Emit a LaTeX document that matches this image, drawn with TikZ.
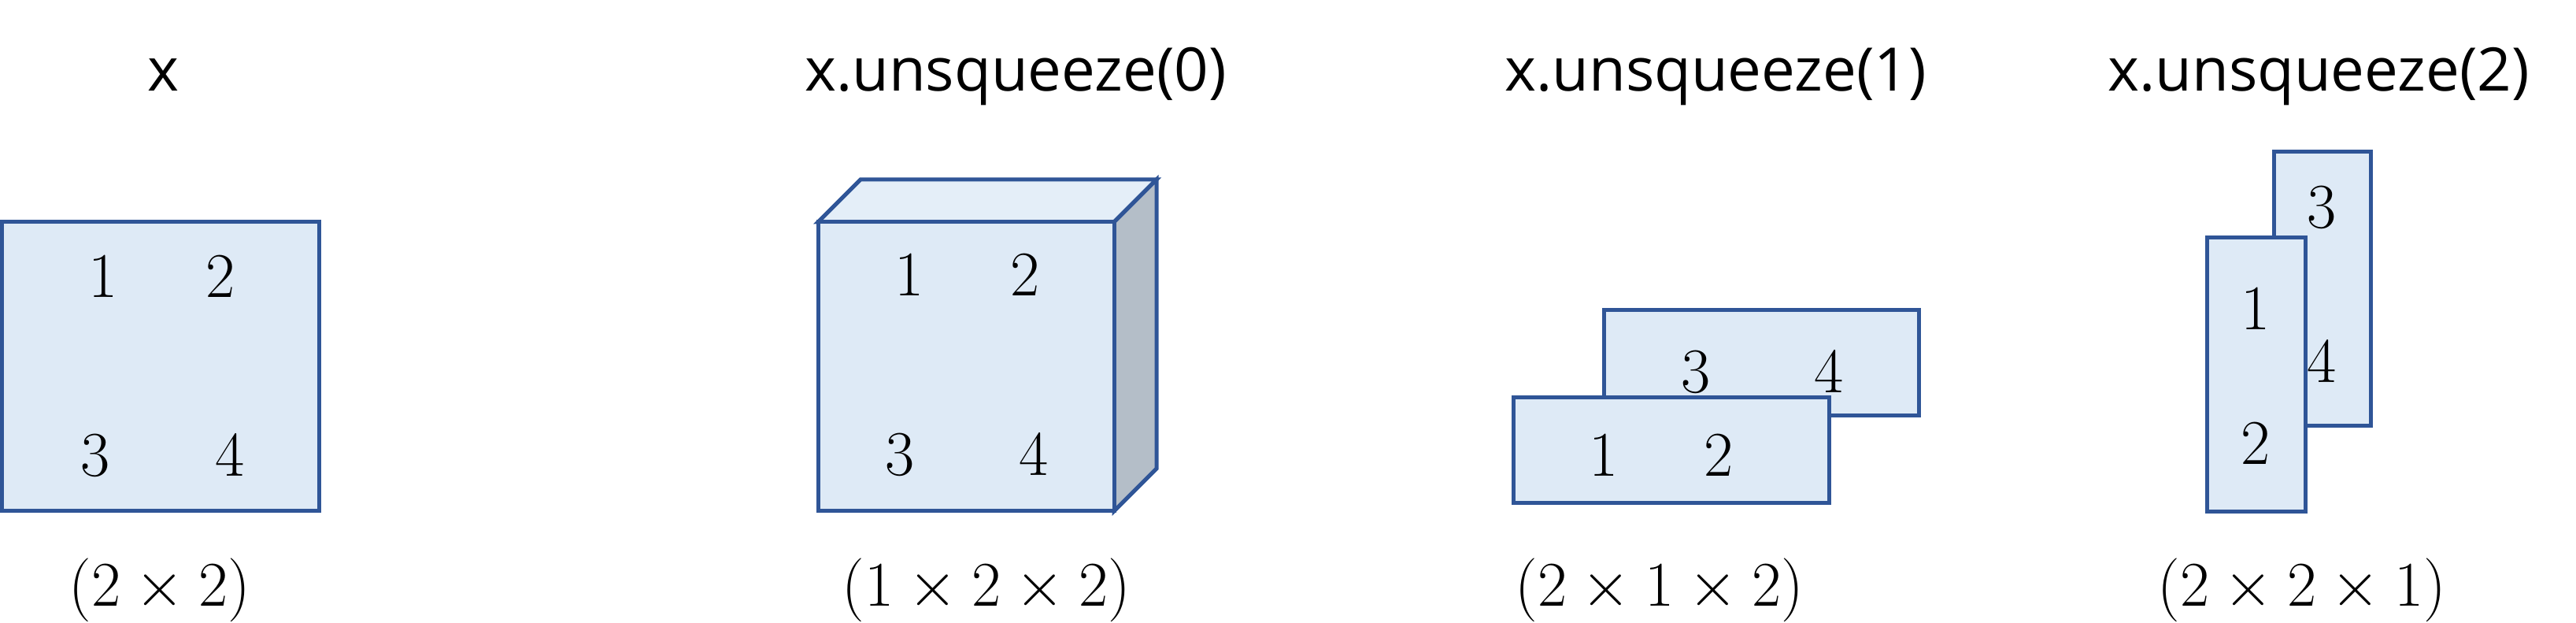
\RequirePackage{fix-cm}
\documentclass[tikz,border=0pt]{standalone}
\usepackage{fontspec}
\newfontfamily\titlefont{Open Sans}
\usetikzlibrary{calc}
\definecolor{tfill}{RGB}{222,234,246}
\definecolor{ttop}{RGB}{228,238,248}
\definecolor{tside}{RGB}{180,190,200}
\definecolor{tline}{RGB}{47,85,151}
\def\tensorbox[#1](#2)(#3){\draw[#1] (#2) rectangle (#3);}

\begin{document}
\begin{tikzpicture}[
	slab/.style={draw=tline, fill=tfill, line width=0.05cm, line join=miter},
	num/.style={font=\fontsize{23}{28}\selectfont, inner sep=0pt},
	title/.style={font=\titlefont\fontsize{21.7}{26}\selectfont, anchor=base, inner sep=0pt},
	dims/.style={font=\fontsize{23}{28}\selectfont, anchor=base, inner sep=0pt}]
			%%%%% START %%%%%
			\useasboundingbox (0, 0) rectangle (32.72, 7.91);
			
			% titles
			\node[title] (t0) at (2.07, 6.75) {x};
			\node[title] (t1) at (12.90, 6.75) {x.unsqueeze(0)};
			\node[title] (t2) at (21.79, 6.75) {x.unsqueeze(1)};
			\node[title] (t3) at (29.45, 6.75) {x.unsqueeze(2)};
			
			% x
			\tensorbox[slab](0.03, 5.09)(4.05, 1.42);
			
			% unsqueeze(0)
			\draw[slab, fill=ttop] (10.39, 5.09) -- (10.93, 5.63) -- (14.69, 5.63) -- (14.15, 5.09) -- cycle;
			\draw[slab, fill=tside] (14.15, 5.09) -- (14.69, 5.63) -- (14.69, 1.96) -- (14.15, 1.42) -- cycle;
			\tensorbox[slab](10.39, 5.09)(14.15, 1.42);
			
			% unsqueeze(1)
			\tensorbox[slab](20.37, 3.97)(24.37, 2.63);
			\tensorbox[slab](19.22, 2.86)(23.23, 1.52);
			
			% unsqueeze(2)
			\tensorbox[slab](28.88, 5.98)(30.11, 2.50);
			\tensorbox[slab](28.03, 4.89)(29.28, 1.41);
			
			% entries
			\node[num] (a1) at (1.31, 4.40) {$1$};
			\node[num] (a2) at (2.80, 4.40) {$2$};
			\node[num] (a3) at (1.21, 2.13) {$3$};
			\node[num] (a4) at (2.92, 2.13) {$4$};
			
			\node[num] (b1) at (11.55, 4.42) {$1$};
			\node[num] (b2) at (13.02, 4.42) {$2$};
			\node[num] (b3) at (11.43, 2.14) {$3$};
			\node[num] (b4) at (13.13, 2.14) {$4$};
			
			\node[num] (c3) at (21.54, 3.19) {$3$};
			\node[num] (c4) at (23.23, 3.19) {$4$};
			\node[num] (c1) at (20.37, 2.13) {$1$};
			\node[num] (c2) at (21.83, 2.13) {$2$};
			
			\node[num] (d3) at (29.49, 5.28) {$3$};
			\node[num] (d4) at (29.49, 3.32) {$4$};
			\node[num] (d1) at (28.65, 3.99) {$1$};
			\node[num] (d2) at (28.65, 2.28) {$2$};
			
			% shapes
			\node[dims] (s0) at (2.03, 0.21) {$(2\times2)$};
			\node[dims] (s1) at (12.53, 0.21) {$(1\times2\times2)$};
			\node[dims] (s2) at (21.08, 0.21) {$(2\times1\times2)$};
			\node[dims] (s3) at (29.24, 0.21) {$(2\times2\times1)$};
			%%%%% END %%%%%
		\end{tikzpicture}
\end{document}
